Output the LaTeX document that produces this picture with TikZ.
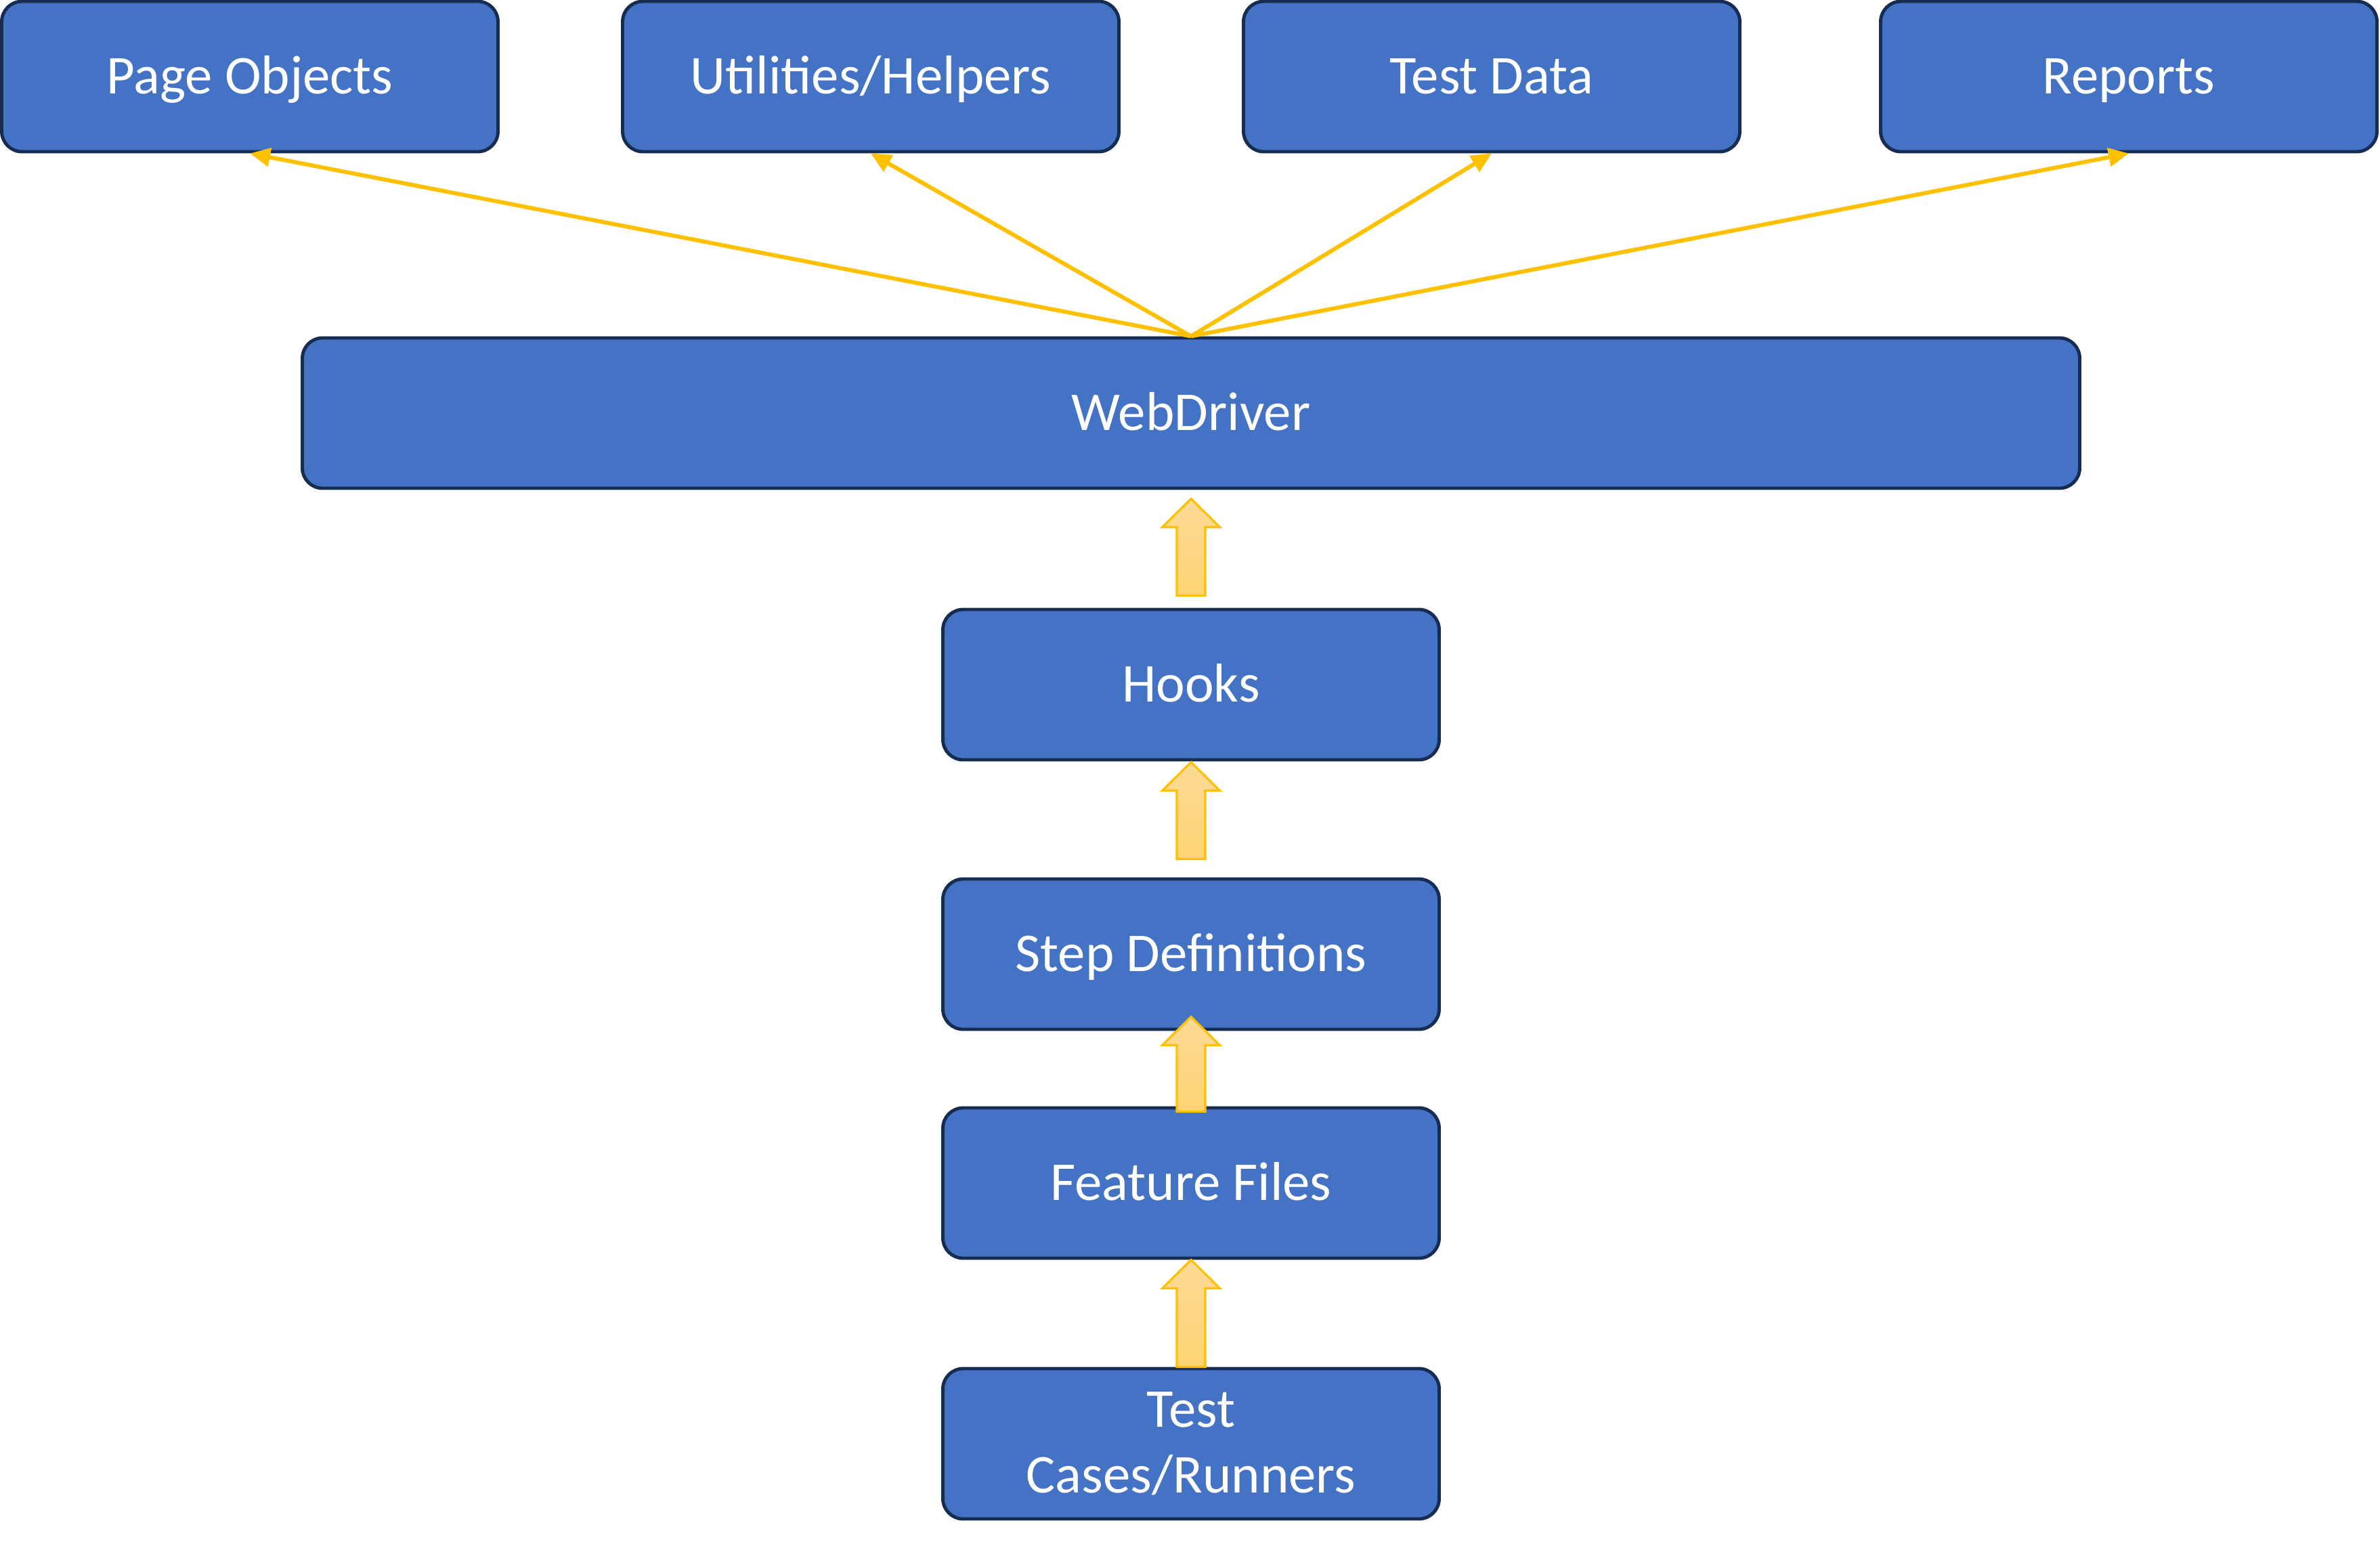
\documentclass[tikz,border=0pt]{standalone}
\usepackage{fontspec}
\setmainfont{Carlito}
\usepackage{xcolor}
\usetikzlibrary{arrows.meta,calc}

\definecolor{boxblue}{HTML}{4472C4}
\definecolor{boxedge}{HTML}{172C51}
\definecolor{linkgold}{HTML}{FFC000}
\definecolor{fattop}{HTML}{FDDA97}
\definecolor{fatbot}{HTML}{FFD475}

% block arrow pointing up: base node, shift, tip node, shift
\newcommand{\fatarrow}[4]{%
  \path (#1) ++(0,#2) coordinate (fa-b) (#3) ++(0,#4) coordinate (fa-t);
  \draw[fatarrow] ($(fa-b)+(-0.21,0)$) -- ($(fa-t)+(-0.21,-0.42)$)
    -- ($(fa-t)+(-0.425,-0.42)$) -- (fa-t) -- ($(fa-t)+(0.425,-0.42)$)
    -- ($(fa-t)+(0.21,-0.42)$) -- ($(fa-b)+(0.21,0)$) -- cycle;}

\begin{document}
\begin{tikzpicture}[
  block/.style={draw=boxedge, line width=1.4pt, fill=boxblue, rounded corners=0.3cm,
    text=white, font=\fontsize{23}{27.5}\selectfont, align=center,
    text height=19.5pt, text depth=4.8pt,
    minimum width=7.33cm, minimum height=2.22cm, inner sep=0pt},
  link/.style={draw=linkgold, line width=1.7pt, -{Triangle[length=0.3cm,width=0.27cm]}},
  fatarrow/.style={draw=linkgold, line width=0.9pt, top color=fattop, bottom color=fatbot}]
\useasboundingbox (0,0) rectangle (35.15,-22.82);

\node[block] (po) at (3.69,-1.13) {Page Objects};
\node[block] (uh) [right of=po, node distance=9.17cm] {Utilities/Helpers};
\node[block] (td) [right of=uh, node distance=9.17cm] {Test Data};
\node[block] (rp) [right of=td, node distance=9.41cm] {Reports};

\node[block, minimum width=26.25cm] (wd) at (17.59,-6.10) {WebDriver};
\node[block] (hooks) [below of=wd, node distance=4.01cm] {Hooks};
\node[block] (step) [below of=hooks, node distance=3.98cm] {Step Definitions};
\node[block] (feature) [below of=step, node distance=3.38cm] {Feature Files};
\node[block, text height={}, text depth={}] (tc) [below of=feature, node distance=3.85cm] {Test\\Cases/Runners};

\draw[link] (wd.north) -- (po.south);
\draw[link] (wd.north) -- (uh.south);
\draw[link] (wd.north) -- (td.south);
\draw[link] (wd.north) -- (rp.south);

\fatarrow{hooks.north}{0.18}{wd.south}{-0.13}
\fatarrow{step.north}{0.27}{hooks.south}{-0.01}
\fatarrow{feature.north}{-0.08}{step.south}{0.21}
\fatarrow{tc.north}{0}{feature.south}{0}
\end{tikzpicture}
\end{document}
